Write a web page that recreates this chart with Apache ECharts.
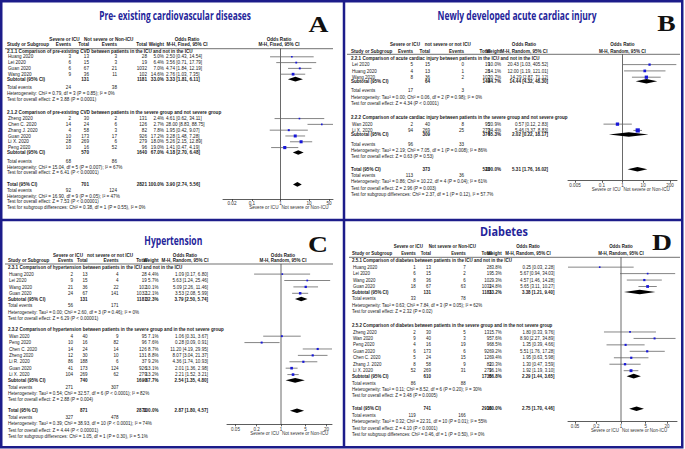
<!DOCTYPE html>
<html><head><meta charset="utf-8"><title>Forest plots</title>
<script src="https://cdn.jsdelivr.net/npm/echarts@6.0.0/dist/echarts.min.js"></script>
<style>html,body{margin:0;padding:0;background:#fff;overflow:hidden}#chart{width:685px;height:449px}</style>
</head><body><div id="chart"></div>
<script>
// ================= DATA =================
const panelTitles = ['Pre- existing cardiovascular diseases', 'Newly developed acute cardiac injury', 'Hypertension', 'Diabetes'];
const panelLetters = ['A', 'B', 'C', 'D'];
const methodLabels = ['M-H, Fixed, 95% CI', 'M-H, Random, 95% CI', 'M-H, Random, 95% CI', 'M-H, Random, 95% CI'];
const columnHeaders = ['Study or Subgroup', 'Events', 'Total', 'Events', 'Total', 'Weight'];
const effectHeader = 'Odds Ratio';
const summaryLabels = ['Subtotal (95% CI)', 'Subtotal (95% CI)', 'Total (95% CI)'];
const totalEventsLabel = 'Total events';
const axisSideLabels = ['Severe or ICU', 'Not severe or Non-ICU'];

// ---- Panel A: pre-existing CVD ----
const aHeadGroups = ['Severe or ICU', 'Not severe or Non-ICU'];
const aSubTitles = ['2.1.1 Comparison of pre-existing CVD between patients in the ICU and not in the ICU',
                    '2.1.2 Comparison of pre-existing CVD between patients in the severe group and not severe group'];
const aStudy  = ['Huang 2020', 'Lei 2020', 'Guan 2020', 'Wang 2020', 'Zheng 2020', 'Chen C. 2020', 'Zhang J. 2020', 'Guan 2020', 'Li X. 2020', 'Peng 2020'];
const aGroup  = [0, 0, 0, 0, 1, 1, 1, 1, 1, 1];
const aEv1    = [3, 6, 6, 9, 2, 14, 4, 10, 28, 10];
const aTot1   = [13, 15, 67, 36, 30, 24, 58, 173, 269, 16];
const aEv2    = [3, 3, 21, 11, 2, 6, 3, 17, 6, 52];
const aTot2   = [28, 19, 1032, 102, 131, 126, 82, 926, 279, 96];
const aWeight = [5.0, 6.4, 7.0, 14.6, 2.4, 2.7, 7.8, 17.2, 18.0, 19.0];
const aOR     = [2.50, 3.56, 4.74, 2.76, 4.61, 28.00, 1.95, 3.28, 5.26, 1.41];
const aLo     = [0.43, 0.71, 1.84, 1.03, 0.62, 8.83, 0.42, 1.48, 2.15, 0.47];
const aHi     = [14.54, 17.79, 12.19, 7.35, 34.11, 88.75, 9.07, 7.28, 12.89, 4.19];
const aSumTot1 = [131, 570, 701];
const aSumTot2 = [1181, 1640, 2821];
const aSumWeight = [33.0, 67.0, 100.0];
const aSumOR = [3.33, 4.18, 3.90];
const aSumLo = [1.81, 2.70, 2.74];
const aSumHi = [6.11, 6.48, 5.56];
const aSumEv1 = [24, 68, 92];
const aSumEv2 = [38, 86, 124];
const aHet = ['Heterogeneity: Chi² = 0.79, df = 3 (P = 0.85); I² = 0%',
              'Heterogeneity: Chi² = 15.04, df = 5 (P = 0.007); I² = 67%',
              'Heterogeneity: Chi² = 16.90, df = 9 (P = 0.05); I² = 47%'];
const aTest = ['Test for overall effect: Z = 3.88 (P = 0.0001)',
               'Test for overall effect: Z = 6.41 (P < 0.00001)',
               'Test for overall effect: Z = 7.53 (P < 0.00001)'];
const aSubgroupTest = 'Test for subgroup differences: Chi² = 0.38, df = 1 (P = 0.55), I² = 0%';
const aTicks = [0.02, 0.1, 1, 10, 50];
const aTickLabels = ['0.02', '0.1', '1', '10', '50'];

// ---- Panel B: acute cardiac injury ----
const bHeadGroups = ['Severe or ICU', 'not severe or not ICU'];
const bSubTitles = ['2.2.1 Comparison of acute cardiac injury between patients in the ICU and not in the ICU',
                    '2.2.2 Comparison of acute cardiac injury between patients in the severe group and not severe group'];
const bStudy  = ['Lei 2020', 'Huang 2020', 'Wang 2020', 'Wan 2020', 'Li X. 2020'];
const bGroup  = [0, 0, 0, 1, 1];
const bEv1    = [5, 4, 8, 2, 94];
const bTot1   = [15, 13, 36, 40, 269];
const bEv2    = [0, 1, 2, 8, 25];
const bTot2   = [19, 28, 102, 95, 279];
const bWeight = [10.0, 14.1, 20.7, 20.9, 34.4];
const bOR     = [20.43, 12.00, 14.29, 0.57, 5.46];
const bLo     = [1.03, 1.19, 2.87, 0.12, 3.37];
const bHi     = [405.52, 121.01, 71.12, 2.83, 8.83];
const bSumTot1 = [64, 309, 373];
const bSumTot2 = [149, 374, 523];
const bSumWeight = [44.7, 55.3, 100.0];
const bSumOR = [14.44, 2.02, 5.31];
const bSumLo = [4.32, 0.22, 1.76];
const bSumHi = [48.30, 18.17, 16.02];
const bSumEv1 = [17, 96, 113];
const bSumEv2 = [3, 33, 36];
const bHet = ['Heterogeneity: Tau² = 0.00; Chi² = 0.06, df = 2 (P = 0.98); I² = 0%',
              'Heterogeneity: Tau² = 2.19; Chi² = 7.05, df = 1 (P = 0.008); I² = 86%',
              'Heterogeneity: Tau² = 0.86; Chi² = 10.22, df = 4 (P = 0.04); I² = 61%'];
const bTest = ['Test for overall effect: Z = 4.34 (P < 0.0001)',
               'Test for overall effect: Z = 0.63 (P = 0.53)',
               'Test for overall effect: Z = 2.96 (P = 0.003)'];
const bSubgroupTest = 'Test for subgroup differences: Chi² = 2.37, df = 1 (P = 0.12), I² = 57.7%';
const bTicks = [0.005, 0.1, 1, 10, 200];
const bTickLabels = ['0.005', '0.1', '1', '10', '200'];

// ---- Panel C: hypertension ----
const cHeadGroups = ['Severe or ICU', 'not severe or not ICU'];
const cSubTitles = ['2.3.1 Comparison of hypertension between patients in the ICU and not in the ICU',
                    '2.3.2 Comparison of hypertension between patients in the severe group and in the not severe group'];
const cStudy  = ['Huang 2020', 'Lei 2020', 'Wang 2020', 'Guan 2020', 'Wan 2020', 'Peng 2020', 'Chen C. 2020', 'Zheng 2020', 'Li R. 2020', 'Guan 2020', 'Li X. 2020'];
const cGroup  = [0, 0, 0, 0, 1, 1, 1, 1, 1, 1, 1];
const cEv1    = [2, 9, 21, 24, 4, 10, 14, 12, 86, 41, 104];
const cTot1   = [13, 15, 36, 67, 40, 16, 24, 30, 188, 173, 269];
const cEv2    = [4, 4, 22, 141, 9, 82, 14, 10, 6, 124, 62];
const cTot2   = [28, 19, 102, 1032, 95, 96, 126, 131, 37, 926, 279];
const cWeight = [4.4, 5.7, 10.1, 12.1, 7.1, 7.6, 8.7, 8.8, 9.2, 13.1, 13.2];
const cOR     = [1.09, 5.63, 5.09, 3.53, 1.06, 0.28, 11.20, 8.07, 4.36, 2.01, 2.21];
const cLo     = [0.17, 1.24, 2.26, 2.08, 0.31, 0.09, 4.19, 3.04, 1.74, 1.36, 1.52];
const cHi     = [6.80, 25.46, 11.46, 5.99, 3.67, 0.91, 29.95, 21.37, 10.93, 2.98, 3.21];
const cSumTot1 = [131, 740, 871];
const cSumTot2 = [1181, 1690, 2871];
const cSumWeight = [32.3, 67.7, 100.0];
const cSumOR = [3.79, 2.54, 2.87];
const cSumLo = [2.50, 1.35, 1.80];
const cSumHi = [5.74, 4.80, 4.57];
const cSumEv1 = [56, 271, 327];
const cSumEv2 = [171, 307, 478];
const cHet = ['Heterogeneity: Tau² = 0.00; Chi² = 2.60, df = 3 (P = 0.46); I² = 0%',
              'Heterogeneity: Tau² = 0.54; Chi² = 32.57, df = 6 (P < 0.0001); I² = 82%',
              'Heterogeneity: Tau² = 0.39; Chi² = 38.93, df = 10 (P < 0.0001); I² = 74%'];
const cTest = ['Test for overall effect: Z = 6.29 (P < 0.00001)',
               'Test for overall effect: Z = 2.88 (P = 0.004)',
               'Test for overall effect: Z = 4.44 (P < 0.00001)'];
const cSubgroupTest = 'Test for subgroup differences: Chi² = 1.05, df = 1 (P = 0.30), I² = 5.1%';
const cTicks = [0.05, 0.2, 1, 5, 20];
const cTickLabels = ['0.05', '0.2', '1', '5', '20'];

// ---- Panel D: diabetes ----
const dHeadGroups = ['Severe or ICU', 'Not severe or Non-ICU'];
const dSubTitles = ['2.5.1 Comparison of diabetes between patients in the ICU and not in the ICU',
                    '2.5.2 Comparison of diabetes between patients in the severe group and in the not severe group'];
const dStudy  = ['Huang 2020', 'Lei 2020', 'Wang 2020', 'Guan 2020', 'Zheng 2020', 'Wan 2020', 'Peng 2020', 'Guan 2020', 'Chen C. 2020', 'Zhang J. 2020', 'Li X. 2020'];
const dGroup  = [0, 0, 0, 0, 1, 1, 1, 1, 1, 1, 1];
const dEv1    = [1, 6, 8, 18, 2, 9, 4, 6, 5, 8, 52];
const dTot1   = [13, 15, 36, 67, 30, 40, 16, 173, 24, 58, 269];
const dEv2    = [7, 2, 6, 63, 5, 3, 19, 6, 15, 9, 31];
const dTot2   = [28, 19, 102, 1032, 131, 95, 96, 926, 126, 82, 279];
const dWeight = [3.8, 5.3, 9.3, 14.8, 5.7, 7.6, 8.5, 9.2, 9.4, 10.3, 16.1];
const dOR     = [0.25, 5.67, 4.57, 5.65, 1.80, 8.90, 1.35, 5.51, 1.95, 1.30, 1.92];
const dLo     = [0.03, 0.94, 1.46, 3.11, 0.33, 2.27, 0.39, 1.76, 0.63, 0.47, 1.19];
const dHi     = [2.28, 34.03, 14.28, 10.27, 9.76, 34.89, 4.66, 17.28, 5.98, 3.59, 3.10];
const dSumTot1 = [131, 610, 741];
const dSumTot2 = [1181, 1735, 2916];
const dSumWeight = [33.2, 66.8, 100.0];
const dSumOR = [3.38, 2.29, 2.75];
const dSumLo = [1.21, 1.44, 1.70];
const dSumHi = [9.40, 3.65, 4.46];
const dSumEv1 = [33, 86, 119];
const dSumEv2 = [78, 88, 166];
const dHet = ['Heterogeneity: Tau² = 0.63; Chi² = 7.84, df = 3 (P = 0.05); I² = 62%',
              'Heterogeneity: Tau² = 0.11; Chi² = 8.52, df = 6 (P = 0.20); I² = 30%',
              'Heterogeneity: Tau² = 0.32; Chi² = 22.31, df = 10 (P = 0.01); I² = 55%'];
const dTest = ['Test for overall effect: Z = 2.32 (P = 0.02)',
               'Test for overall effect: Z = 3.48 (P = 0.0005)',
               'Test for overall effect: Z = 4.10 (P < 0.0001)'];
const dSubgroupTest = 'Test for subgroup differences: Chi² = 0.46, df = 1 (P = 0.50), I² = 0%';
const dTicks = [0.05, 0.2, 1, 5, 20];
const dTickLabels = ['0.05', '0.2', '1', '5', '20'];

// ================= ASSEMBLY =================
const panels = [
  {head:aHeadGroups, subTitles:aSubTitles, study:aStudy, grp:aGroup, ev1:aEv1, tot1:aTot1, ev2:aEv2, tot2:aTot2, w:aWeight, or:aOR, lo:aLo, hi:aHi,
   sTot1:aSumTot1, sTot2:aSumTot2, sW:aSumWeight, sOR:aSumOR, sLo:aSumLo, sHi:aSumHi, sEv1:aSumEv1, sEv2:aSumEv2, het:aHet, test:aTest, sg:aSubgroupTest, ticks:aTicks, tickLabels:aTickLabels},
  {head:bHeadGroups, subTitles:bSubTitles, study:bStudy, grp:bGroup, ev1:bEv1, tot1:bTot1, ev2:bEv2, tot2:bTot2, w:bWeight, or:bOR, lo:bLo, hi:bHi,
   sTot1:bSumTot1, sTot2:bSumTot2, sW:bSumWeight, sOR:bSumOR, sLo:bSumLo, sHi:bSumHi, sEv1:bSumEv1, sEv2:bSumEv2, het:bHet, test:bTest, sg:bSubgroupTest, ticks:bTicks, tickLabels:bTickLabels},
  {head:cHeadGroups, subTitles:cSubTitles, study:cStudy, grp:cGroup, ev1:cEv1, tot1:cTot1, ev2:cEv2, tot2:cTot2, w:cWeight, or:cOR, lo:cLo, hi:cHi,
   sTot1:cSumTot1, sTot2:cSumTot2, sW:cSumWeight, sOR:cSumOR, sLo:cSumLo, sHi:cSumHi, sEv1:cSumEv1, sEv2:cSumEv2, het:cHet, test:cTest, sg:cSubgroupTest, ticks:cTicks, tickLabels:cTickLabels},
  {head:dHeadGroups, subTitles:dSubTitles, study:dStudy, grp:dGroup, ev1:dEv1, tot1:dTot1, ev2:dEv2, tot2:dTot2, w:dWeight, or:dOR, lo:dLo, hi:dHi,
   sTot1:dSumTot1, sTot2:dSumTot2, sW:dSumWeight, sOR:dSumOR, sLo:dSumLo, sHi:dSumHi, sEv1:dSumEv1, sEv2:dSumEv2, het:dHet, test:dTest, sg:dSubgroupTest, ticks:dTicks, tickLabels:dTickLabels}
];

// ================= LAYOUT (positions & styles) =================
const layouts = [
  {titleX:175, titleY:15, titleW:152, letterX:318.5, letterY:24, h1Y:39, h2Y:44.3, sepY:48.7, sepL:5, sepR:333,
   top:51, lineH:5.8, subOff:0.85, teOff:1.5, gap1:2.3, gap2:2.0,
   axisY:199, axL:223, axR:333, tL:232, tR:329, fs:5.0, sx:0.93,
   cName:7, cEv1:71, cTot1:89, cEv2:117, cTot2:147, cW:164, cOR:166, orAlign:'left', hc1:64.5, hc2:108.7, hc3:187, hc4:279},
  {titleX:517, titleY:15.3, titleW:159, letterX:666.5, letterY:23, h1Y:44.3, h2Y:51, sepY:54.3, sepL:347, sepR:680,
   top:58.3, lineH:6.3, subOff:0.65, teOff:1.5, gap1:2.3, gap2:2.0,
   axisY:180.7, axL:568, axR:677, tL:575, tR:670, fs:5.3, sx:0.86,
   cName:351, cEv1:413, cTot1:430, cEv2:464, cTot2:490, cW:501, cOR:548, orAlign:'right', hc1:405, hc2:447.7, hc3:524, hc4:622.4},
  {titleX:173.3, titleY:240, titleW:58, letterX:318, letterY:244, h1Y:255, h2Y:260.7, sepY:264, sepL:5, sepR:333,
   top:267.7, lineH:6.4, subOff:0.9, teOff:1.05, gap1:1.75, gap2:1.7,
   axisY:424.3, axL:227, axR:332, tL:235.5, tR:326.5, fs:5.3, sx:0.86,
   cName:8, cEv1:73, cTot1:87.5, cEv2:118.5, cTot2:146.7, cW:158.5, cOR:208, orAlign:'right', hc1:68, hc2:110, hc3:185, hc4:283},
  {titleX:504, titleY:231, titleW:48, letterX:662, letterY:241.7, h1Y:246.3, h2Y:253.7, sepY:257.3, sepL:349, sepR:680,
   top:260.7, lineH:6.45, subOff:0.85, teOff:1.05, gap1:2.15, gap2:2.0,
   axisY:421.7, axL:568, axR:677, tL:575, tR:667, fs:5.3, sx:0.84,
   cName:352, cEv1:415.7, cTot1:431, cEv2:465.7, cTot2:491.7, cW:501.7, cOR:554.5, orAlign:'right', hc1:408.3, hc2:452.3, hc3:528, hc4:621}
];

const FONT = '"Liberation Sans", Arial, sans-serif';
const TITLE_FONT = 'bold 11.5px "Open Sans", "Liberation Sans", sans-serif';
const LETTER_FONT = 'bold 24px "Liberation Serif", "DejaVu Serif", serif';
const FRAME = '#1c1c8a';
const TEXT = '#1a1a1a';
const SS = 2; // small text is set at SS× size and scaled down by 1/SS (avoids minimum font-size clamping)
const lg = Math.log10;

const mctx = document.createElement('canvas').getContext('2d');
function measure(s, font) { mctx.font = font; return mctx.measureText(s).width; }

const G = [];
function txt(x, y, s, L, o) {
  o = o || {};
  const al = o.align || 'left';
  const big = !!o.font;
  const sc = big ? 1 : 1 / SS;
  G.push({type:'text', x:x, y:y, scaleX:(o.sx != null ? o.sx : L.sx) * sc, scaleY:sc, silent:true, z:10,
    style:{text:String(s), font:o.font || ((o.bold ? 'bold ' : '') + ((o.fs || L.fs) * SS) + 'px ' + FONT),
      fill:o.fill || TEXT, align:al, textAlign:al, verticalAlign:'middle', textVerticalAlign:'middle'}});
}
function hline(x1, x2, y, color, w) {
  G.push({type:'line', silent:true, z:5, shape:{x1:x1, y1:y, x2:x2, y2:y}, style:{stroke:color, lineWidth:w}});
}

function rowPlan(L, n1, n2) {
  const r = {title:[0], study:[], sum:[], te:[], het:[], test:[]};
  for (let i = 0; i < n1; i++) r.study.push(1 + i);
  r.sum.push(n1 + L.subOff); r.te.push(r.sum[0] + L.teOff); r.het.push(r.te[0] + 1); r.test.push(r.te[0] + 2);
  const t2 = r.test[0] + L.gap1; r.title.push(t2);
  for (let i = 0; i < n2; i++) r.study.push(t2 + 1 + i);
  r.sum.push(t2 + n2 + L.subOff); r.te.push(r.sum[1] + L.teOff); r.het.push(r.te[1] + 1); r.test.push(r.te[1] + 2);
  const tot = r.test[1] + L.gap2;
  r.sum.push(tot); r.te.push(tot + 1); r.het.push(tot + 2); r.test.push(tot + 3); r.sg = tot + 4;
  return r;
}
const ci = (o, l, h) => o.toFixed(2) + ' [' + l.toFixed(2) + ', ' + h.toFixed(2) + ']';

const grids = [], xAxes = [], yAxes = [], series = [], tickLogs = [];

panels.forEach((P, pi) => {
  const L = layouts[pi];
  const Y = r => L.top + r * L.lineH;
  const n1 = P.grp.filter(g => g === 0).length, n2 = P.grp.length - n1;
  const R = rowPlan(L, n1, n2);

  // title + panel letter
  const tw = measure(panelTitles[pi], TITLE_FONT);
  txt(L.titleX, L.titleY, panelTitles[pi], L, {align:'center', font:TITLE_FONT, fill:'#24249a', sx:L.titleW / tw});
  txt(L.letterX, L.letterY, panelLetters[pi], L, {align:'center', font:LETTER_FONT, fill:'#111', sx:1.15});

  // headers
  txt(L.hc1, L.h1Y, P.head[0], L, {align:'center', bold:true});
  txt(L.hc2, L.h1Y, P.head[1], L, {align:'center', bold:true});
  txt(L.hc3, L.h1Y, effectHeader, L, {align:'center', bold:true});
  txt(L.hc4, L.h1Y, effectHeader, L, {align:'center', bold:true});
  txt(L.cName, L.h2Y, columnHeaders[0], L, {bold:true});
  txt(L.cEv1, L.h2Y, columnHeaders[1], L, {align:'right', bold:true});
  txt(L.cTot1, L.h2Y, columnHeaders[2], L, {align:'right', bold:true});
  txt(L.cEv2, L.h2Y, columnHeaders[3], L, {align:'right', bold:true});
  txt(L.cTot2, L.h2Y, columnHeaders[4], L, {align:'right', bold:true});
  txt(L.cW, L.h2Y, columnHeaders[5], L, {align:'right', bold:true});
  txt(L.hc3, L.h2Y, methodLabels[pi], L, {align:'center', bold:true});
  txt(L.hc4, L.h2Y, methodLabels[pi], L, {align:'center', bold:true});
  hline(L.sepL, L.sepR, L.sepY, '#333', 0.7);

  // subgroup titles
  R.title.forEach((r, k) => txt(L.cName, Y(r), P.subTitles[k], L, {bold:true}));

  // study rows
  P.study.forEach((s, i) => {
    const y = Y(R.study[i]);
    txt(L.cName + 1, y, s, L);
    txt(L.cEv1, y, P.ev1[i], L, {align:'right'});
    txt(L.cTot1, y, P.tot1[i], L, {align:'right'});
    txt(L.cEv2, y, P.ev2[i], L, {align:'right'});
    txt(L.cTot2, y, P.tot2[i], L, {align:'right'});
    txt(L.cW, y, P.w[i].toFixed(1) + '%', L, {align:'right'});
    txt(L.cOR, y, ci(P.or[i], P.lo[i], P.hi[i]), L, {align:L.orAlign});
  });

  // summary blocks
  for (let k = 0; k < 3; k++) {
    const y = Y(R.sum[k]);
    txt(L.cName, y, summaryLabels[k], L, {bold:true});
    txt(L.cTot1, y, P.sTot1[k], L, {align:'right', bold:true});
    txt(L.cTot2, y, P.sTot2[k], L, {align:'right', bold:true});
    txt(L.cW, y, P.sW[k].toFixed(1) + '%', L, {align:'right', bold:true});
    txt(L.cOR, y, ci(P.sOR[k], P.sLo[k], P.sHi[k]), L, {align:L.orAlign, bold:true});
    txt(L.cName, Y(R.te[k]), totalEventsLabel, L);
    txt(L.cEv1, Y(R.te[k]), P.sEv1[k], L, {align:'right'});
    txt(L.cEv2, Y(R.te[k]), P.sEv2[k], L, {align:'right'});
    txt(L.cName, Y(R.het[k]), P.het[k], L);
    txt(L.cName, Y(R.test[k]), P.test[k], L);
  }
  txt(L.cName, Y(R.sg), P.sg, L);

  // forest plot axes (log10 space)
  const tl = P.ticks.map(lg);
  tickLogs.push(tl);
  const t0 = tl[0], t1 = tl[tl.length - 1];
  const ppd = (L.tR - L.tL) / (t1 - t0);
  const xMin = t0 - (L.tL - L.axL) / ppd, xMax = t1 + (L.axR - L.tR) / ppd;
  const yMin = (L.sepY - L.top) / L.lineH, yMax = (L.axisY - L.top) / L.lineH;
  grids.push({left:L.axL, top:L.sepY, width:L.axR - L.axL, height:L.axisY - L.sepY, containLabel:false, outerBoundsMode:'none'});
  xAxes.push({gridIndex:pi, type:'value', min:xMin, max:xMax, splitLine:{show:false},
    axisLine:{show:true, onZero:false, lineStyle:{color:'#333', width:0.8}},
    axisTick:{show:true, customValues:tl, length:2, lineStyle:{color:'#333', width:0.8}},
    axisLabel:{show:false}});
  yAxes.push({gridIndex:pi, type:'value', min:yMin, max:yMax, inverse:true, show:false});

  // reference line at OR = 1
  series.push({type:'custom', xAxisIndex:pi, yAxisIndex:pi, silent:true, animation:false, z:3,
    data:[[0, yMin, yMax]], encode:{x:0, y:1},
    renderItem:(params, api) => {
      const a = api.coord([api.value(0), api.value(1)]), b = api.coord([api.value(0), api.value(2)]);
      return {type:'line', shape:{x1:a[0], y1:a[1], x2:b[0], y2:b[1]}, style:{stroke:'#444', lineWidth:0.8}};
    }});

  // studies: CI line + weighted square
  series.push({type:'custom', xAxisIndex:pi, yAxisIndex:pi, silent:true, animation:false, z:4, clip:false,
    data:P.study.map((s, i) => [lg(P.or[i]), lg(P.lo[i]), lg(P.hi[i]), R.study[i], P.w[i]]),
    encode:{x:0, y:3},
    renderItem:(params, api) => {
      const row = api.value(3);
      const c = api.coord([api.value(0), row]);
      const lo = api.coord([api.value(1), row]), hi = api.coord([api.value(2), row]);
      const cs = params.coordSys;
      const xl = Math.max(cs.x, lo[0]), xr = Math.min(cs.x + cs.width, hi[0]);
      const s = Math.max(1.6, 0.72 * Math.sqrt(api.value(4)));
      return {type:'group', children:[
        {type:'line', shape:{x1:xl, y1:c[1], x2:xr, y2:c[1]}, style:{stroke:'#666', lineWidth:0.8}},
        {type:'rect', shape:{x:c[0] - s / 2, y:c[1] - s / 2, width:s, height:s}, style:{fill:'#1717d8'}}
      ]};
    }});

  // pooled estimates: diamonds
  series.push({type:'custom', xAxisIndex:pi, yAxisIndex:pi, silent:true, animation:false, z:4, clip:false,
    data:[0, 1, 2].map(k => [lg(P.sOR[k]), lg(P.sLo[k]), lg(P.sHi[k]), R.sum[k]]),
    encode:{x:0, y:3},
    renderItem:(params, api) => {
      const row = api.value(3);
      const c = api.coord([api.value(0), row]);
      const lo = api.coord([api.value(1), row]), hi = api.coord([api.value(2), row]);
      const h = 2.3;
      return {type:'polygon', shape:{points:[[lo[0], c[1]], [c[0], c[1] - h], [hi[0], c[1]], [c[0], c[1] + h]]}, style:{fill:'#000'}};
    }});
});

// frame of the 2x2 figure
G.push({type:'rect', silent:true, z:20, shape:{x:1.25, y:1.25, width:681, height:446}, style:{fill:'none', stroke:FRAME, lineWidth:2.5}});
G.push({type:'line', silent:true, z:20, shape:{x1:344, y1:1, x2:344, y2:447}, style:{stroke:FRAME, lineWidth:2.5}});
G.push({type:'line', silent:true, z:20, shape:{x1:1, y1:220, x2:682, y2:220}, style:{stroke:FRAME, lineWidth:2.5}});

const chart = echarts.init(document.getElementById('chart'), null, {renderer:'svg', width:685, height:449});
chart.setOption({
  animation:false,
  backgroundColor:'#ffffff',
  grid:grids, xAxis:xAxes, yAxis:yAxes, series:series
});

// tick labels and side captions, positioned through each panel's x axis
panels.forEach((P, pi) => {
  const L = layouts[pi];
  tickLogs[pi].forEach((v, i) => {
    const px = chart.convertToPixel({xAxisIndex:pi}, v);
    txt(px, L.axisY + 4.6, P.tickLabels[i], L, {align:'center', fill:'#333'});
  });
  const x1px = chart.convertToPixel({xAxisIndex:pi}, 0);
  txt(x1px - 2, L.axisY + 8.9, axisSideLabels[0], L, {align:'right', fill:'#333'});
  txt(x1px + 1, L.axisY + 8.9, axisSideLabels[1], L, {align:'left', fill:'#333'});
});
chart.setOption({graphic:{elements:G}});
</script></body></html>
